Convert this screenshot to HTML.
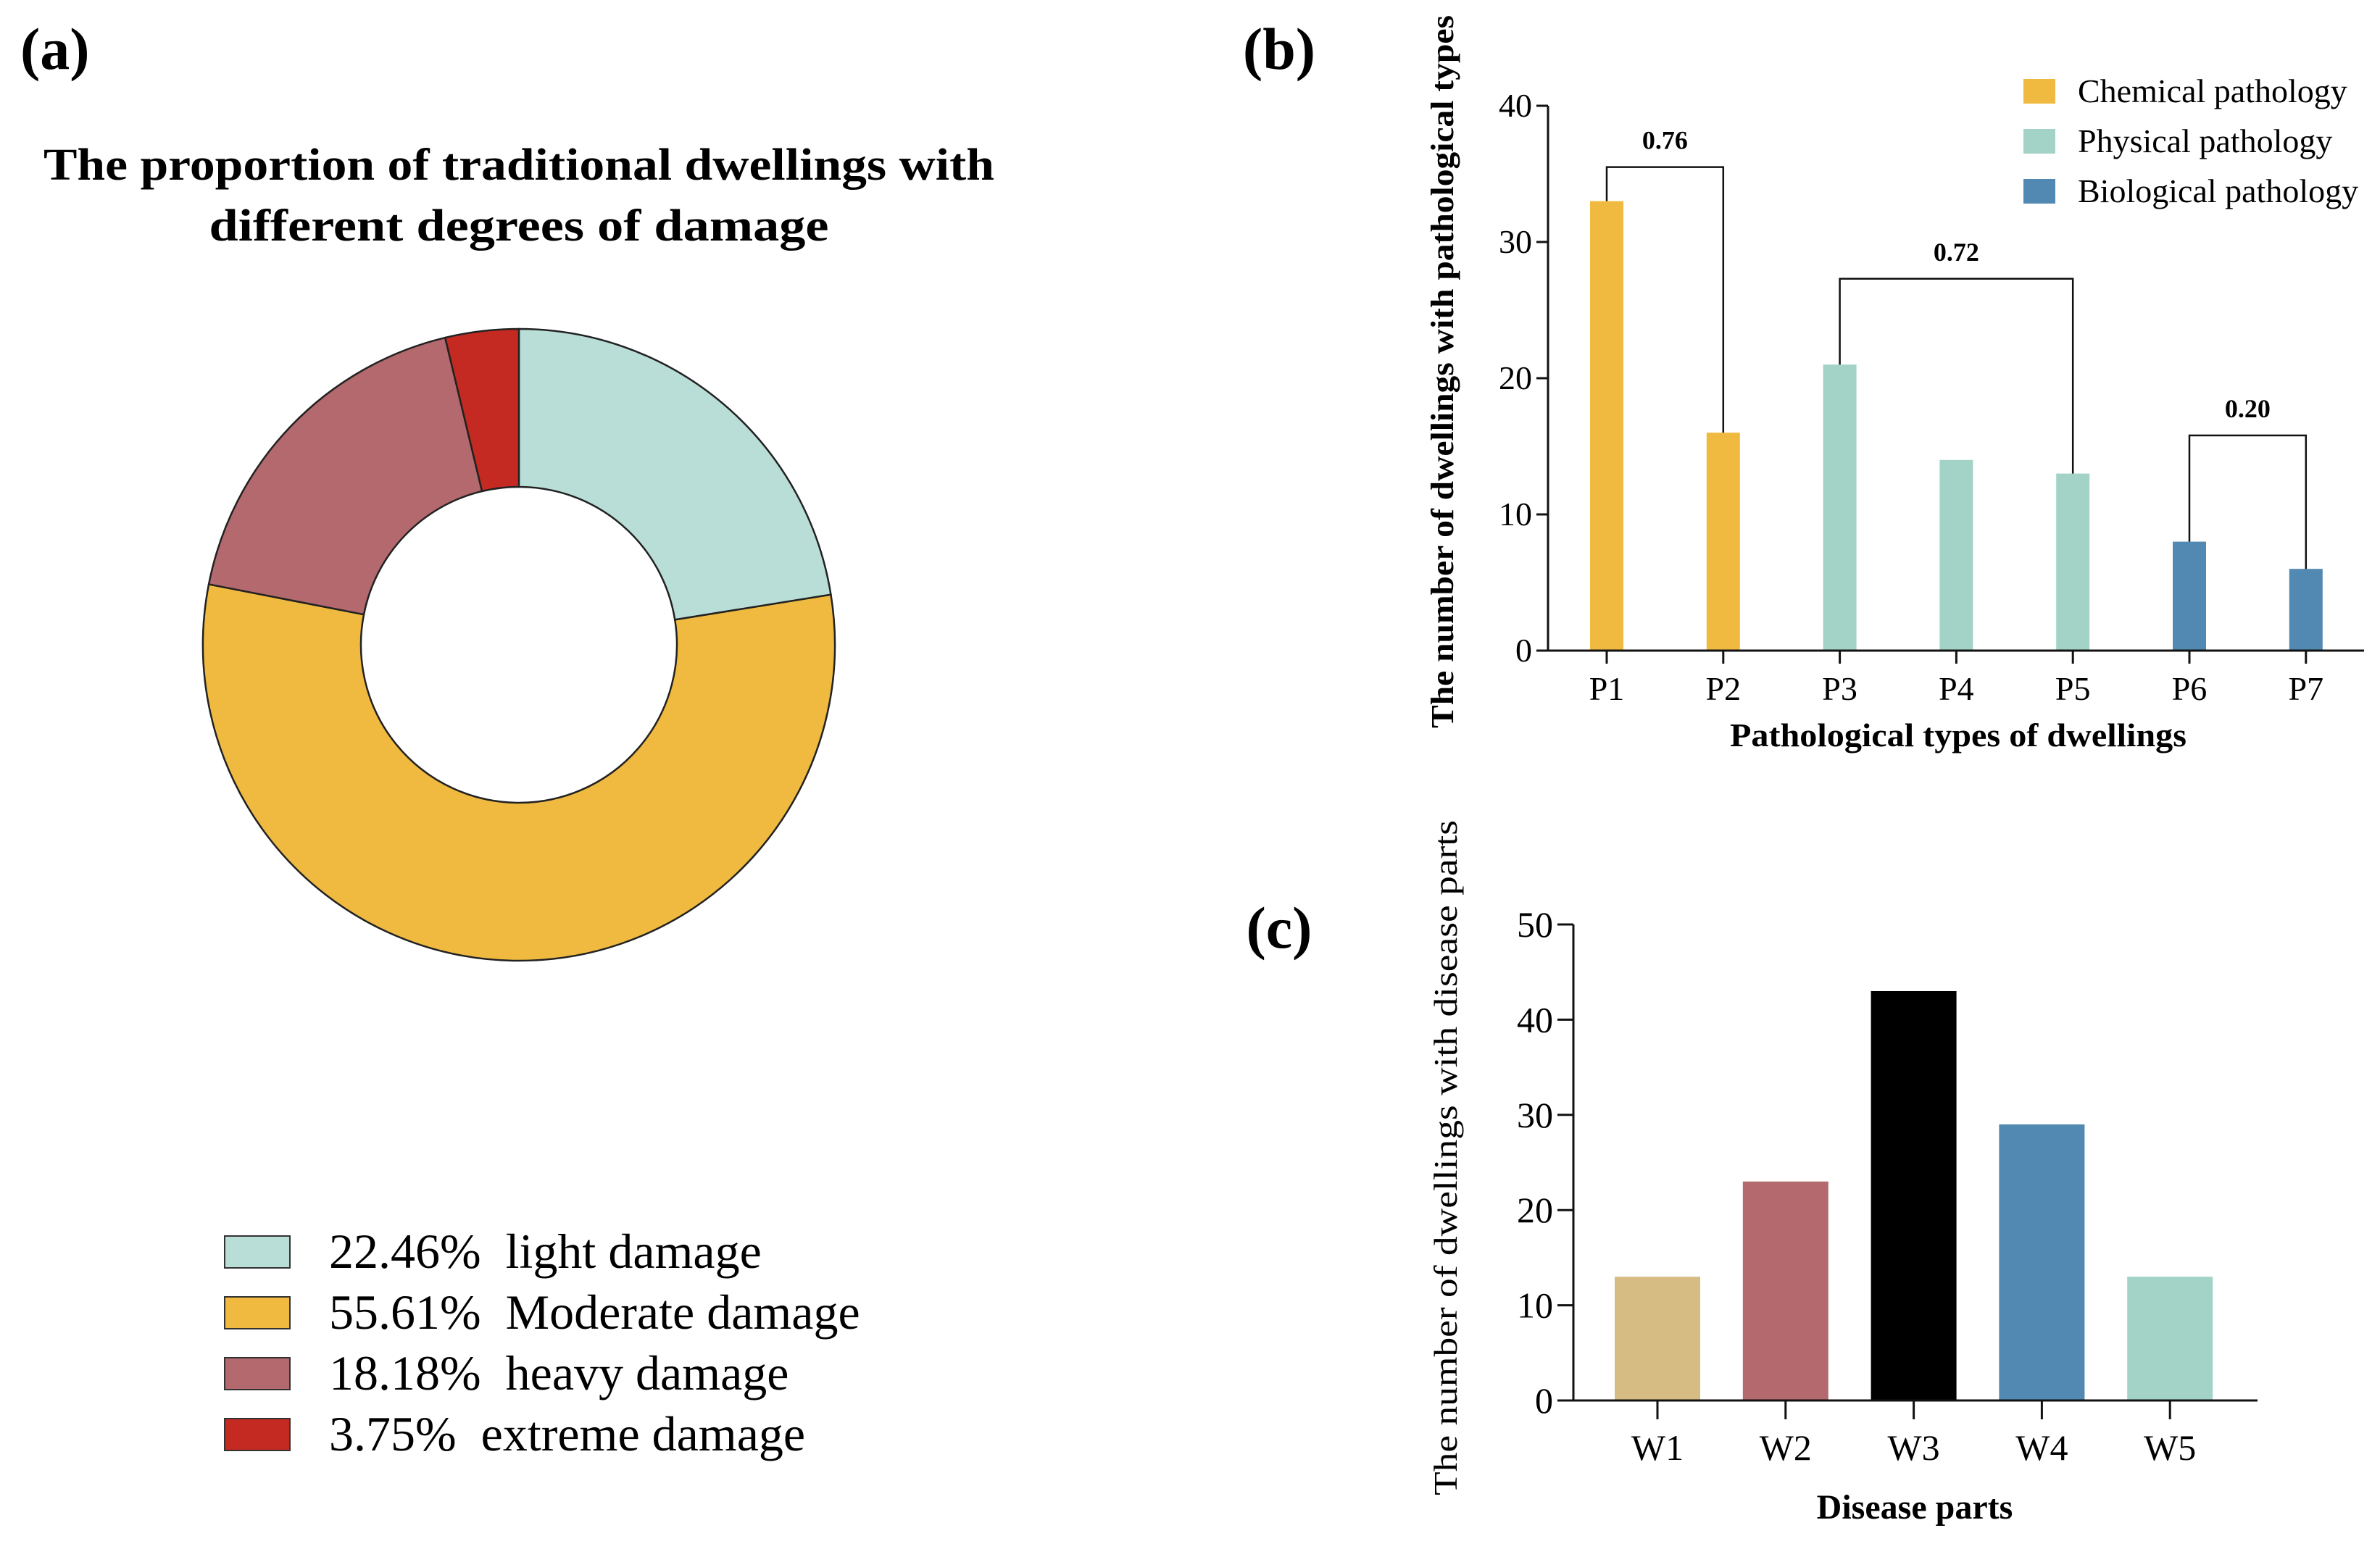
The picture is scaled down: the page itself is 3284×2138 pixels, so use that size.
<!DOCTYPE html>
<html><head><meta charset="utf-8"><style>
html,body{margin:0;padding:0;background:#fff;}
svg, svg text{font-family:"Liberation Serif","Times New Roman","DejaVu Serif",serif;}
</style></head><body>
<svg id="fig" width="3284" height="2133" viewBox="0 0 3284 2133" xmlns="http://www.w3.org/2000/svg" font-family="Liberation Serif, Times New Roman, DejaVu Serif, serif">
<rect width="3284" height="2133" fill="#fff"/>
<text x="28" y="95" font-size="82" font-weight="bold">(a)</text>
<text x="1765" y="95" font-size="82" font-weight="bold" text-anchor="middle">(b)</text>
<text x="1765" y="1308" font-size="82" font-weight="bold" text-anchor="middle">(c)</text>
<text x="716" y="248" font-size="62" font-weight="bold" text-anchor="middle" textLength="1312" lengthAdjust="spacingAndGlyphs">The proportion of traditional dwellings with</text>
<text x="716" y="332" font-size="62" font-weight="bold" text-anchor="middle" textLength="855" lengthAdjust="spacingAndGlyphs">different degrees of damage</text>
<g id="donut"></g>
<g id="legendA"></g>
<g id="chartB"></g>
<g id="chartC"></g>
</svg>
<script>
const donutLabels = ["light damage","Moderate damage","heavy damage","extreme damage"];
const donutValues = [22.46,55.61,18.18,3.75];
const donutColors = ["#B9DED7","#F0BA41","#B3696D","#C52A22"];

const bCats = ["P1","P2","P3","P4","P5","P6","P7"];
const bValues = [33,16,21,14,13,8,6];
const bColors = ["#F0BA41","#F0BA41","#A3D3C7","#A3D3C7","#A3D3C7","#5189B3","#5189B3"];
const bTicks = [0,10,20,30,40];
const bBrackets = [[0,1,35.5,"0.76"],[2,4,27.3,"0.72"],[5,6,15.8,"0.20"]];
const bLegend = ["Chemical pathology","Physical pathology","Biological pathology"];
const bLegendColors = ["#F0BA41","#A3D3C7","#5189B3"];

const cCats = ["W1","W2","W3","W4","W5"];
const cValues = [13,23,43,29,13];
const cColors = ["#D6BC82","#B3696D","#000000","#5189B3","#A3D3C7"];
const cTicks = [0,10,20,30,40,50];

const NS="http://www.w3.org/2000/svg";
function mk(parent,tag,attrs,text){const e=document.createElementNS(NS,tag);for(const k in attrs)e.setAttribute(k,attrs[k]);if(text!==undefined)e.textContent=text;parent.appendChild(e);return e;}

// Donut
(function(){
  const g=document.getElementById('donut');
  const cx=716,cy=890,R=436,r=218;
  const total=donutValues.reduce((a,b)=>a+b,0);
  let a0=-Math.PI/2;
  donutValues.forEach((v,i)=>{
    const a1=a0+v/total*2*Math.PI;
    const large=(a1-a0)>Math.PI?1:0;
    const p=[cx+R*Math.cos(a0),cy+R*Math.sin(a0),cx+R*Math.cos(a1),cy+R*Math.sin(a1),cx+r*Math.cos(a1),cy+r*Math.sin(a1),cx+r*Math.cos(a0),cy+r*Math.sin(a0)];
    const d=`M${p[0]},${p[1]} A${R},${R} 0 ${large} 1 ${p[2]},${p[3]} L${p[4]},${p[5]} A${r},${r} 0 ${large} 0 ${p[6]},${p[7]} Z`;
    const s=mk(g,'path',{d:d,fill:donutColors[i],stroke:'#222','stroke-width':2.5});
    
    
    a0=a1;
  });
  const lg=document.getElementById('legendA');
  donutValues.forEach((v,i)=>{
    const y=1728+i*84;
    const sw=mk(lg,'rect',{x:310,y:y-22,width:90,height:44,fill:donutColors[i],stroke:'#333','stroke-width':2});
    
    
    const t=mk(lg,'text',{x:454,y:y+22,'font-size':68},v.toFixed(2)+'%\u00a0 '+donutLabels[i]);
    
    
  });
})();

// Chart B
(function(){
  const g=document.getElementById('chartB');
  const x0=2136,y0=898,yTop=146,xEnd=3262,maxV=40;
  const ys=v=>y0-(v/maxV)*(y0-yTop);
  const xs=i=>2217+i*160.8;
  bValues.forEach((v,i)=>{
    const b=mk(g,'rect',{x:xs(i)-23,y:ys(v),width:46,height:y0-ys(v),fill:bColors[i]});
    
    
  });
  mk(g,'line',{x1:x0,y1:y0,x2:xEnd,y2:y0,stroke:'#111','stroke-width':3});
  mk(g,'line',{x1:x0,y1:y0,x2:x0,y2:yTop,stroke:'#111','stroke-width':3});
  bTicks.forEach(t=>{
    mk(g,'line',{x1:x0-16,y1:ys(t),x2:x0,y2:ys(t),stroke:'#111','stroke-width':3});
    const l=mk(g,'text',{x:x0-22,y:ys(t)+15,'font-size':46,'text-anchor':'end'},String(t));
    
    
  });
  bCats.forEach((c,i)=>{
    mk(g,'line',{x1:xs(i),y1:y0,x2:xs(i),y2:y0+18,stroke:'#111','stroke-width':3});
    const l=mk(g,'text',{x:xs(i),y:y0+68,'font-size':46,'text-anchor':'middle'},c);
    
    
  });
  bBrackets.forEach(br=>{
    const [a,b,v,lab]=br;
    const xa=xs(a),xb=xs(b),yb=ys(v);
    mk(g,'path',{d:`M${xa},${ys(bValues[a])} L${xa},${yb} L${xb},${yb} L${xb},${ys(bValues[b])}`,fill:'none',stroke:'#111','stroke-width':2.5});
    const t=mk(g,'text',{x:(xa+xb)/2,y:yb-25,'font-size':36,'font-weight':'bold','text-anchor':'middle'},lab);
    
    
  });
  const xt=mk(g,'text',{x:2702,y:1030,'font-size':46,'font-weight':'bold','text-anchor':'middle',textLength:630,lengthAdjust:'spacingAndGlyphs'},'Pathological types of dwellings');
  
  
  const yt=mk(g,'text',{x:0,y:0,'font-size':44,'font-weight':'bold','text-anchor':'middle',transform:'translate(2005,513) rotate(-90)',textLength:984,lengthAdjust:'spacingAndGlyphs'},'The number of dwellings with pathological types');
  
  
  bLegend.forEach((s,i)=>{
    const y=126+i*69;
    const sw=mk(g,'rect',{x:2792,y:y-17,width:44,height:34,fill:bLegendColors[i]});
    
    
    const t=mk(g,'text',{x:2867,y:y+15,'font-size':46},s);
    
    
  });
})();

// Chart C
(function(){
  const g=document.getElementById('chartC');
  const x0=2171,y0=1933,yTop=1276,xEnd=3115,maxV=50;
  const ys=v=>y0-(v/maxV)*(y0-yTop);
  const xs=i=>2287+i*176.8;
  cValues.forEach((v,i)=>{
    const b=mk(g,'rect',{x:xs(i)-59,y:ys(v),width:118,height:y0-ys(v),fill:cColors[i]});
    
    
  });
  mk(g,'line',{x1:x0-22,y1:y0,x2:xEnd,y2:y0,stroke:'#111','stroke-width':3});
  mk(g,'line',{x1:x0,y1:y0,x2:x0,y2:yTop,stroke:'#111','stroke-width':3});
  cTicks.forEach(t=>{
    mk(g,'line',{x1:x0-22,y1:ys(t),x2:x0,y2:ys(t),stroke:'#111','stroke-width':3});
    const l=mk(g,'text',{x:x0-28,y:ys(t)+17,'font-size':50,'text-anchor':'end'},String(t));
    
    
  });
  cCats.forEach((c,i)=>{
    mk(g,'line',{x1:xs(i),y1:y0,x2:xs(i),y2:y0+26,stroke:'#111','stroke-width':3});
    const l=mk(g,'text',{x:xs(i),y:y0+82,'font-size':50,'text-anchor':'middle'},c);
    
    
  });
  const xt=mk(g,'text',{x:2642,y:2096,'font-size':48,'font-weight':'bold','text-anchor':'middle'},'Disease parts');
  
  
  const yt=mk(g,'text',{x:0,y:0,'font-size':46,'text-anchor':'middle',transform:'translate(2010,1598) rotate(-90)',textLength:932,lengthAdjust:'spacingAndGlyphs'},'The number of dwellings with disease parts');
  
  
})();
</script>
</body></html>
